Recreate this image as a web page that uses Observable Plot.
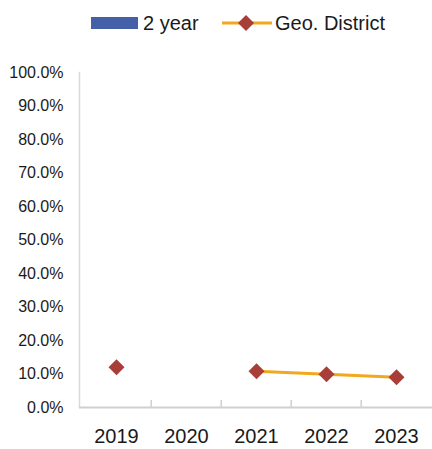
<!DOCTYPE html>
<html>
<head>
<meta charset="utf-8">
<script src="https://cdn.jsdelivr.net/npm/d3@7"></script>
<script src="https://cdn.jsdelivr.net/npm/@observablehq/plot@0.6"></script>
<style>
  html, body { margin: 0; padding: 0; background: #fff; }
  body { width: 432px; height: 449px; overflow: hidden; font-family: "Liberation Sans", Arial, sans-serif; }
  #legend { position: relative; height: 46px; width: 432px; }
  #legend .sw { position: absolute; }
  #legend .lab { position: absolute; font-size: 20px; color: #1a1a1a; line-height: 20px; top: 13px; }
</style>
</head>
<body>
<div id="legend">
  <div class="sw" style="left:91px;top:17px;width:47px;height:12px;background:#4460A8"></div>
  <div class="lab" style="left:143px">2 year</div>
  <svg class="sw" style="left:220px;top:13px" width="54" height="20">
    <line x1="2" y1="10" x2="52" y2="10" stroke="#F2A81D" stroke-width="3"/>
    <path d="M26,2 L34,10 L26,18 L18,10 Z" fill="#A83E38"/>
  </svg>
  <div class="lab" style="left:275px">Geo. District</div>
</div>
<div id="chart"></div>
<script>
const years = ["2019", "2020", "2021", "2022", "2023"];
const twoYear = [null, null, null, null, null];
const geoDistrict = [0.120, null, 0.108, 0.099, 0.090];
const yTicks = [0, 0.1, 0.2, 0.3, 0.4, 0.5, 0.6, 0.7, 0.8, 0.9, 1.0];

const rows = years.map((year, i) => ({year, twoYear: twoYear[i], geo: geoDistrict[i]}));

const W = 432, H = 403, ML = 79, MR = 0, MT = 26, MB = 42;
const step = (W - ML - MR) / years.length;

const chart = Plot.plot({
  width: W,
  height: H,
  marginLeft: ML,
  marginRight: MR,
  marginTop: MT,
  marginBottom: MB,
  style: {fontFamily: "'Liberation Sans', Arial, sans-serif", color: "#1a1a1a", background: "#fff"},
  x: {type: "point", domain: years, padding: 0.5, label: null},
  y: {domain: [0, 1], label: null},
  marks: [
    Plot.axisY({ticks: yTicks, tickFormat: d3.format(".1%"), tickSize: 0, tickPadding: 16, fontSize: 16, label: null}),
    Plot.axisX({tickSize: 0, tickPadding: 21, fontSize: 20, label: null}),
    Plot.frame({anchor: "left", stroke: "#d9d9d9", strokeWidth: 1.5}),
    Plot.ruleY([0], {stroke: "#d0d0d0", strokeWidth: 2}),
    Plot.ruleX(years.slice(1), {y1: 0, y2: 0.021, dx: -step / 2, stroke: "#d0d0d0", strokeWidth: 1.5}),
    Plot.dot(rows.filter(d => d.twoYear != null), {x: "year", y: "twoYear", fill: "#4460A8"}),
    Plot.line(rows, {x: "year", y: "geo", stroke: "#F2A81D", strokeWidth: 3, defined: d => d.geo != null}),
    Plot.dot(rows.filter(d => d.geo != null), {x: "year", y: "geo", symbol: "diamond2", r: 7.2, fill: "#A83E38", stroke: "none"})
  ]
});
document.getElementById("chart").appendChild(chart);
</script>
</body>
</html>
